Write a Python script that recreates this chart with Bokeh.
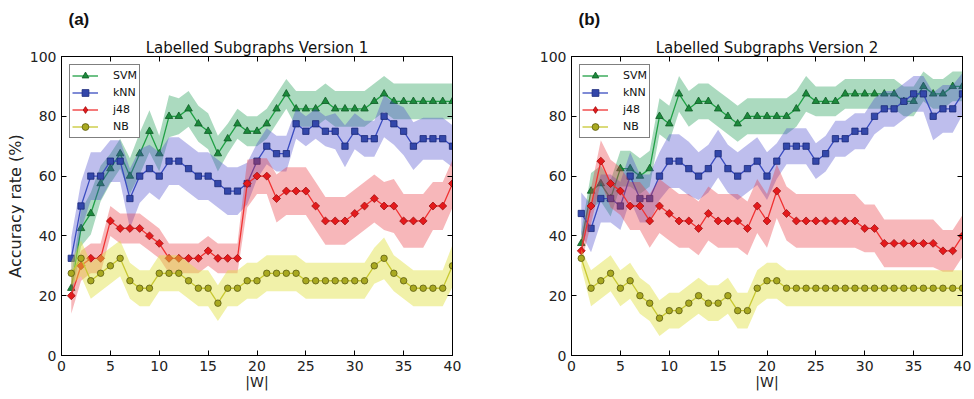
import numpy as np
from bokeh.plotting import figure
from bokeh.models import Range1d, LinearAxis, FixedTicker, Title, Legend, LegendItem
from bokeh.layouts import row
from bokeh.embed import file_html
from bokeh.resources import INLINE

# ---------------- data ----------------
W = list(range(1, 41))
x_ticks = [0, 5, 10, 15, 20, 25, 30, 35, 40]
y_ticks = [0, 20, 40, 60, 80, 100]
series_names = ["SVM", "kNN", "j48", "NB"]

# Version 1 (panel a)
svm_v1 = [22.5, 42.5, 47.5, 57.5, 62.5, 67.5, 60, 67.5, 75, 67.5,
          80, 80, 82.5, 77.5, 75, 67.5, 72.5, 77.5, 75, 75,
          77.5, 82.5, 87.5, 82.5, 82.5, 82.5, 85, 82.5, 82.5, 82.5,
          82.5, 85, 87.5, 85, 85, 85, 85, 85, 85, 85]
knn_v1 = [32.5, 50, 60, 60, 65, 65, 52.5, 60, 62.5, 60,
          65, 65, 62.5, 60, 60, 57.5, 55, 55, 57.5, 65,
          70, 67.5, 67.5, 77.5, 75, 77.5, 75, 75, 70, 75,
          72.5, 72.5, 80, 77.5, 75, 70, 72.5, 72.5, 72.5, 70]
j48_v1 = [20, 30, 32.5, 32.5, 45, 42.5, 42.5, 42.5, 40, 37.5,
          32.5, 32.5, 32.5, 32.5, 35, 32.5, 32.5, 32.5, 57.5, 60,
          60, 52.5, 55, 55, 55, 50, 45, 45, 45, 47.5,
          50, 52.5, 50, 50, 45, 45, 45, 50, 50, 57.5]
nb_v1 = [27.5, 32.5, 25, 27.5, 30, 32.5, 25, 22.5, 22.5, 27.5,
         27.5, 27.5, 25, 22.5, 22.5, 17.5, 22.5, 22.5, 25, 25,
         27.5, 27.5, 27.5, 27.5, 25, 25, 25, 25, 25, 25,
         25, 30, 32.5, 27.5, 25, 22.5, 22.5, 22.5, 22.5, 30]

svm_v1_sd = [4, 6, 7, 6, 5, 5, 6, 7, 7, 6, 7, 6, 6, 6, 6, 6, 5, 5, 5, 5,
             5, 5, 5, 6, 6, 6, 6, 6, 6, 6, 6, 6, 6, 6, 6, 6, 6, 6, 6, 6]
knn_v1_sd = [7, 8, 8, 8, 7, 7, 10, 9, 8, 8, 8, 8, 8, 8, 8, 8, 8, 8, 7, 6,
             6, 6, 6, 5, 5, 5, 5, 6, 7, 6, 6, 6, 7, 7, 8, 8, 7, 7, 7, 7]
j48_v1_sd = [6, 5, 5, 5, 5, 5, 5, 5, 5, 5, 5, 5, 5, 5, 5, 5, 5, 5, 8, 6,
             6, 8, 8, 8, 8, 8, 8, 8, 8, 8, 8, 8, 8, 9, 9, 9, 9, 8, 8, 8]
nb_v1_sd = [4, 6, 6, 6, 6, 6, 6, 6, 6, 6, 6, 6, 6, 6, 6, 6, 6, 6, 6, 6,
            6, 6, 6, 6, 6, 6, 6, 6, 6, 6, 6, 6, 7, 6, 6, 6, 6, 6, 6, 7]

# Version 2 (panel b)
svm_v2 = [37.5, 55, 57.5, 52.5, 62.5, 62.5, 60, 62.5, 80, 77.5,
          87.5, 82.5, 85, 85, 82.5, 80, 77.5, 80, 80, 80,
          80, 80, 82.5, 87.5, 85, 85, 85, 87.5, 87.5, 87.5,
          87.5, 87.5, 87.5, 85, 85, 90, 87.5, 87.5, 90, 90]
knn_v2 = [47.5, 42.5, 52.5, 52.5, 50, 60, 52.5, 52.5, 60, 65,
          65, 62.5, 60, 62.5, 67.5, 62.5, 60, 62.5, 65, 60,
          65, 70, 70, 70, 65, 67.5, 72.5, 72.5, 75, 75,
          80, 82.5, 82.5, 85, 87.5, 87.5, 80, 82.5, 82.5, 87.5]
j48_v2 = [35, 50, 65, 57.5, 55, 50, 50, 45, 50, 47.5,
          45, 45, 42.5, 47.5, 45, 45, 45, 42.5, 50, 45,
          55, 47.5, 45, 45, 45, 45, 45, 45, 45, 42.5,
          42.5, 37.5, 37.5, 37.5, 37.5, 37.5, 37.5, 35, 35, 40]
nb_v2 = [32.5, 22.5, 25, 27.5, 22.5, 25, 20, 17.5, 12.5, 15,
         15, 17.5, 20, 17.5, 17.5, 20, 15, 15, 22.5, 25,
         25, 22.5, 22.5, 22.5, 22.5, 22.5, 22.5, 22.5, 22.5, 22.5,
         22.5, 22.5, 22.5, 22.5, 22.5, 22.5, 22.5, 22.5, 22.5, 22.5]

svm_v2_sd = [4, 6, 6, 6, 6, 6, 6, 6, 6, 6, 6, 6, 6, 6, 6, 6, 6, 6, 6, 6,
             6, 6, 6, 6, 5, 5, 5, 5, 5, 5, 5, 5, 5, 5, 5, 5, 5, 5, 5, 5]
knn_v2_sd = [7, 8, 8, 8, 8, 8, 8, 8, 8, 9, 9, 9, 8, 8, 8, 8, 8, 8, 8, 8,
             6, 6, 6, 6, 6, 6, 6, 6, 6, 6, 6, 6, 6, 6, 6, 6, 8, 8, 8, 7]
j48_v2_sd = [4, 6, 7, 8, 8, 8, 8, 9, 9, 9, 9, 9, 9, 9, 9, 9, 9, 9, 9, 9,
             9, 9, 9, 9, 9, 9, 9, 9, 9, 8, 8, 8, 8, 8, 8, 8, 8, 7, 7, 7]
nb_v2_sd = [3, 6, 6, 6, 6, 6, 6, 6, 6, 6, 6, 6, 6, 6, 6, 6, 6, 6, 6, 6,
            6, 6, 6, 6, 6, 6, 6, 6, 6, 6, 6, 6, 6, 6, 6, 6, 6, 6, 6, 6]

# ---------------- styles ----------------
STYLE = {
    "SVM": dict(line="#20a045", fill="#1c8a3c", edge="#0e5a24", band="#2ca25f", alpha=0.40,
                marker="triangle", size=7.5, angle=0.0),
    "kNN": dict(line="#3a4cc0", fill="#3347aa", edge="#1b2a78", band="#4444cc", alpha=0.35,
                marker="square", size=6.3, angle=0.0),
    "j48": dict(line="#f03232", fill="#e41a1c", edge="#a00f10", band="#e8303a", alpha=0.35,
                marker="square", size=5.6, angle=np.pi / 4),
    "NB": dict(line="#c8c832", fill="#a9a920", edge="#5c5c10", band="#e0e040", alpha=0.45,
               marker="circle", size=6.5, angle=0.0),
}

FONT = "DejaVu Sans"


def style_axis(ax, ticks, labels=True):
    ax.ticker = FixedTicker(ticks=ticks)
    ax.major_tick_in = 5
    ax.major_tick_out = 0
    ax.minor_tick_line_color = None
    ax.axis_line_color = "black"
    ax.major_tick_line_color = "black"
    if labels:
        ax.major_label_text_font = FONT
        ax.major_label_text_font_size = "14px"
        ax.major_label_text_color = "#222222"
    else:
        ax.major_label_text_font_size = "1px"
        ax.major_label_text_color = None
        ax.major_label_text_alpha = 0
        ax.major_label_standoff = 0


def panel(letter, title, values, sds, width, height, left, right, top, bottom, ylabel):
    p = figure(width=width, height=height, x_range=Range1d(0, 40), y_range=Range1d(0, 100),
               title=None, output_backend="svg", toolbar_location=None,
               min_border_left=left, min_border_right=right,
               min_border_top=top, min_border_bottom=bottom)
    p.grid.visible = False
    p.outline_line_color = "black"
    p.outline_line_width = 1

    style_axis(p.xaxis[0], x_ticks)
    p.xaxis[0].major_label_standoff = 5
    p.xaxis[0].axis_label = "|W|"
    p.xaxis[0].axis_label_text_font = FONT
    p.xaxis[0].axis_label_text_font_size = "14px"
    p.xaxis[0].axis_label_text_font_style = "normal"
    p.xaxis[0].axis_label_text_color = "#222222"
    p.xaxis[0].axis_label_standoff = 0

    style_axis(p.yaxis[0], y_ticks)
    p.yaxis[0].major_label_standoff = 5
    if ylabel:
        p.yaxis[0].axis_label = ylabel
        p.yaxis[0].axis_label_text_font = FONT
        p.yaxis[0].axis_label_text_font_size = "16px"
        p.yaxis[0].axis_label_text_font_style = "normal"
        p.yaxis[0].axis_label_text_color = "#222222"
        p.yaxis[0].axis_label_standoff = 2

    top_ax = LinearAxis()
    style_axis(top_ax, x_ticks, labels=False)
    right_ax = LinearAxis()
    style_axis(right_ax, y_ticks, labels=False)
    p.add_layout(top_ax, "above")
    p.add_layout(right_ax, "right")

    p.add_layout(Title(text=title, align="center", text_font=FONT, text_font_size="15px",
                       text_font_style="normal", text_color="#111111", standoff=0), "above")
    p.add_layout(Title(text=letter, align="left", text_font="Liberation Sans", text_font_size="17px",
                       text_font_style="bold", text_color="#111111", standoff=15, offset=7), "above")

    items = []
    for name, v, sd in zip(series_names, values, sds):
        s = STYLE[name]
        va = np.array(v, dtype=float)
        sa = np.array(sd, dtype=float)
        p.varea(x=W, y1=va - sa, y2=va + sa, fill_color=s["band"], fill_alpha=s["alpha"])
        lr = p.line(W, v, line_color=s["line"], line_width=1.3)
        legend_r = None
        if s["angle"] != 0.0:
            # a diamond drawn underneath the rotated squares: fully covered in the plot,
            # but it gives the legend a diamond glyph
            legend_r = p.scatter(W, v, marker="diamond", size=5,
                                 fill_color=s["fill"], line_color=s["edge"], line_width=0.8)
        sr = p.scatter(W, v, marker=s["marker"], size=s["size"], angle=s["angle"],
                       fill_color=s["fill"], line_color=s["edge"], line_width=0.8)
        items.append(LegendItem(label=name, renderers=[lr, legend_r if legend_r is not None else sr]))

    legend = Legend(items=items, location="top_left", margin=8, padding=2, spacing=0,
                    glyph_width=26, glyph_height=17, label_height=17, label_standoff=15,
                    label_text_font=FONT, label_text_font_size="11px", label_text_color="#111111",
                    border_line_color="black", border_line_width=1,
                    background_fill_color="white", background_fill_alpha=1.0)
    p.add_layout(legend)
    return p


H = 398
pa = panel("(a)", "Labelled Subgraphs Version 1",
           [svm_v1, knn_v1, j48_v1, nb_v1], [svm_v1_sd, knn_v1_sd, j48_v1_sd, nb_v1_sd],
           width=500, height=H, left=61, right=48, top=53, bottom=43, ylabel="Accuracy rate (%)")
pb = panel("(b)", "Labelled Subgraphs Version 2",
           [svm_v2, knn_v2, j48_v2, nb_v2], [svm_v2_sd, knn_v2_sd, j48_v2_sd, nb_v2_sd],
           width=472, height=H, left=71, right=10, top=53, bottom=43, ylabel=None)

layout = row(pa, pb, spacing=0)
open("out.html", "w").write(file_html(layout, INLINE))
